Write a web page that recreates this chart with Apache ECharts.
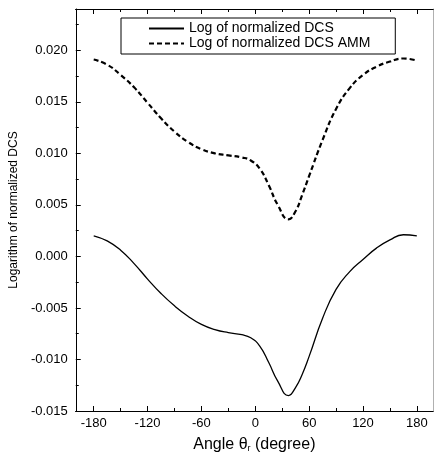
<!DOCTYPE html>
<html>
<head>
<meta charset="utf-8">
<script src="https://cdn.jsdelivr.net/npm/echarts@6/dist/echarts.min.js"></script>
<style>
  html, body { margin: 0; padding: 0; background: #fff; }
  #chart { width: 435px; height: 458px; }
</style>
</head>
<body>
<div id="chart"></div>
<script>
// angle in degrees
const angles = [-180, -165, -150, -135, -120, -105, -90, -75, -60, -45, -30, -15, -5, 5, 15, 25, 37, 45, 52, 60, 75, 90, 105, 120, 135, 150, 165, 180];
const logDcs = [0.0020, 0.0015, 0.0006, -0.0007, -0.0022, -0.0036, -0.0048, -0.0058, -0.0066, -0.0071, -0.0074, -0.0076, -0.0079, -0.0087, -0.0103, -0.0121, -0.0135, -0.0127, -0.0115, -0.0097, -0.0060, -0.0032, -0.0015, -0.0003, 0.0008, 0.0016, 0.0021, 0.0020];
const logDcsAmm = [0.0191, 0.0186, 0.0176, 0.0164, 0.0149, 0.0134, 0.0121, 0.0111, 0.0104, 0.0100, 0.0098, 0.0096, 0.0093, 0.0085, 0.0069, 0.0050, 0.0036, 0.0044, 0.0059, 0.0078, 0.0113, 0.0143, 0.0163, 0.0176, 0.0184, 0.0189, 0.0192, 0.0190];
const xMajorTicks = [-180, -120, -60, 0, 60, 120, 180];
const xMinorTicks = [-150, -90, -30, 30, 90, 150];

const chart = echarts.init(document.getElementById('chart'), null, { renderer: 'canvas' });

const font = 'Liberation Sans, Arial, sans-serif';
const xBase = {
  type: 'value',
  min: -200,
  max: 198,
  axisLine: { onZero: false, lineStyle: { color: '#000', width: 1 } },
  splitLine: { show: false }
};

chart.setOption({
  backgroundColor: '#fff',
  animation: false,
  grid: { left: 69, right: 2, top: 9, bottom: 43 },
  legend: {
    orient: 'vertical',
    left: 121,
    top: 18,
    padding: [3, 25, 3, 27],
    itemGap: 0,
    itemWidth: 35,
    itemHeight: 14,
    borderColor: '#000',
    borderWidth: 1,
    itemStyle: { opacity: 0 },
    textStyle: { fontFamily: font, fontSize: 14, color: '#000', lineHeight: 15 },
    data: ['Log of normalized DCS', 'Log of normalized DCS AMM']
  },
  xAxis: [
    Object.assign({}, xBase, {
      position: 'bottom',
      name: 'Angle θ{sub|r} (degree)',
      nameLocation: 'middle',
      nameGap: 25,
      nameTextStyle: {
        fontFamily: font, fontSize: 16, color: '#000',
        rich: { sub: { fontFamily: font, fontSize: 9, color: '#000', verticalAlign: 'bottom', padding: [8, 0, 0, 0] } }
      },
      axisTick: { inside: true, length: 5, customValues: xMajorTicks, lineStyle: { color: '#000' } },
      axisLabel: { customValues: xMajorTicks, margin: 6, fontFamily: font, fontSize: 13, color: '#000' }
    }),
    Object.assign({}, xBase, {
      position: 'bottom',
      axisTick: { inside: true, length: 3, customValues: xMinorTicks, lineStyle: { color: '#000' } },
      axisLabel: { show: false }
    }),
    Object.assign({}, xBase, {
      position: 'top',
      axisTick: { inside: true, length: 5, customValues: xMajorTicks, lineStyle: { color: '#000' } },
      axisLabel: { show: false }
    }),
    Object.assign({}, xBase, {
      position: 'top',
      axisTick: { inside: true, length: 3, customValues: xMinorTicks, lineStyle: { color: '#000' } },
      axisLabel: { show: false }
    })
  ],
  yAxis: [
    {
      type: 'value',
      position: 'left',
      min: -0.015,
      max: 0.024,
      interval: 0.005,
      name: 'Logarithm of normalized DCS',
      nameLocation: 'middle',
      nameGap: 43,
      nameTextStyle: { fontFamily: font, fontSize: 12, color: '#000' },
      axisLine: { onZero: false, lineStyle: { color: '#000', width: 1 } },
      axisTick: { inside: true, length: 5, lineStyle: { color: '#000' } },
      minorTick: { show: true, splitNumber: 2, length: 3, lineStyle: { color: '#000' } },
      axisLabel: {
        showMaxLabel: false,
        margin: 8,
        fontFamily: font, fontSize: 13, color: '#000',
        formatter: v => v.toFixed(3)
      },
      splitLine: { show: false }
    },
    {
      type: 'value',
      position: 'right',
      min: -0.015,
      max: 0.024,
      axisLine: { show: true, onZero: false, lineStyle: { color: '#b0b0b0', width: 1 } },
      axisTick: { show: false },
      axisLabel: { show: false },
      splitLine: { show: false }
    }
  ],
  series: [
    {
      name: 'Log of normalized DCS',
      type: 'line',
      xAxisIndex: 0,
      yAxisIndex: 0,
      data: angles.map((a, i) => [a, logDcs[i]]),
      smooth: 0.5,
      symbol: 'none',
      lineStyle: { color: '#000', width: 1.3, type: 'solid' },
      itemStyle: { color: '#000' }
    },
    {
      name: 'Log of normalized DCS AMM',
      type: 'line',
      xAxisIndex: 0,
      yAxisIndex: 0,
      data: angles.map((a, i) => [a, logDcsAmm[i]]),
      smooth: 0.5,
      symbol: 'none',
      lineStyle: { color: '#000', width: 2.2, type: [5, 3] },
      itemStyle: { color: '#000' }
    }
  ]
});
</script>
</body>
</html>
